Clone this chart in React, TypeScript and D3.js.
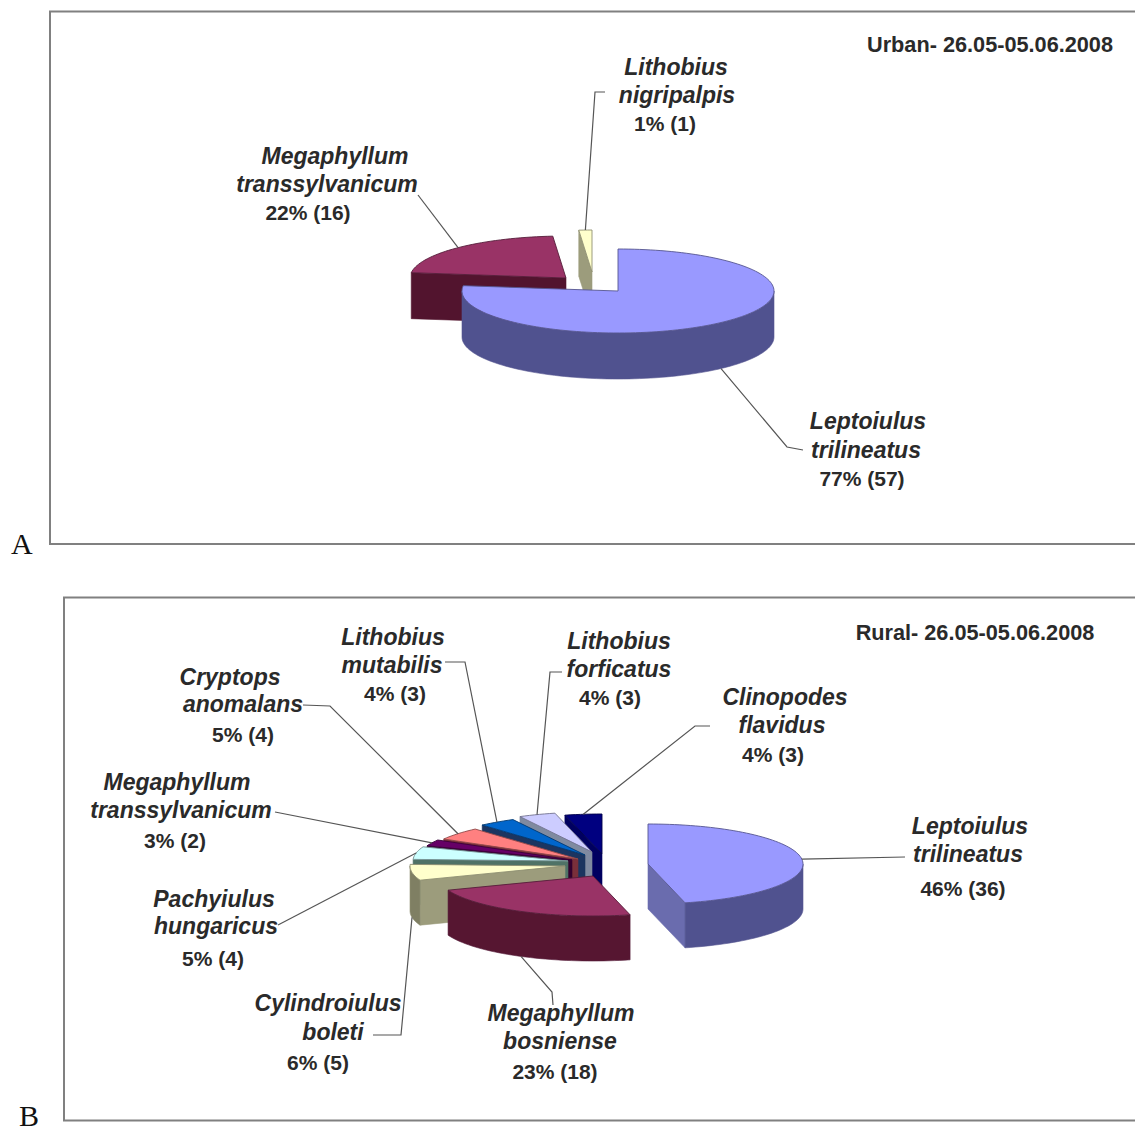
import React from "react";
import * as d3 from "d3";

// Species counts, urban site
const urbanNames = [["Leptoiulus", "trilineatus"], ["Megaphyllum", "transsylvanicum"], ["Lithobius", "nigripalpis"]];
const urbanCounts = [57, 16, 1];
const urbanPercents = [77, 22, 1];

// Species counts, rural site
const ruralNames = [
  ["Leptoiulus", "trilineatus"],
  ["Megaphyllum", "bosniense"],
  ["Cylindroiulus", "boleti"],
  ["Pachyiulus", "hungaricus"],
  ["Megaphyllum", "transsylvanicum"],
  ["Cryptops", "anomalans"],
  ["Lithobius", "mutabilis"],
  ["Lithobius", "forficatus"],
  ["Clinopodes", "flavidus"],
];
const ruralCounts = [36, 18, 5, 4, 2, 4, 3, 3, 3];
const ruralPercents = [46, 23, 6, 5, 3, 5, 4, 4, 4];

// Face colours per slice: top, outer rim, cut side
const urbanTop = ["#9999ff", "#993366", "#ffffcc"];
const urbanRim = ["#50528f", "#561631", "#7f7f63"];
const urbanCut = ["#6a6cae", "#52142e", "#9c9c7c"];
const ruralTop = ["#9999ff", "#993366", "#ffffcc", "#ccffff", "#660066", "#ff8080", "#0066cc", "#ccccff", "#000080"];
const ruralRim = ["#50528f", "#561631", "#7f7f63", "#5f8080", "#33002f", "#803f3f", "#1c3f66", "#7a7a9a", "#000060"];
const ruralCut = ["#6a6cae", "#52142e", "#9c9c7c", "#4f7266", "#33002f", "#7a2f3a", "#1c3560", "#7f8aa0", "#000060"];

type Label = { lines: [number, number][]; leader: [number, number][] };

// Text anchors (centre x, baseline y) and the leader bend points, from label side to slice
const urbanLabels: Label[] = [
  { lines: [[868, 429], [866, 458], [862, 486]], leader: [[803, 450], [787, 447]] },
  { lines: [[335, 164], [327, 192], [308, 220]], leader: [[418, 195]] },
  { lines: [[676, 75], [677, 103], [665, 131]], leader: [[605, 92], [595, 92]] },
];
const ruralLabels: Label[] = [
  { lines: [[970, 834], [968, 862], [963, 896]], leader: [[905, 857]] },
  { lines: [[561, 1021], [560, 1049], [555, 1079]], leader: [[553, 1005], [552, 992]] },
  { lines: [[328, 1011], [333, 1040], [318, 1070]], leader: [[373, 1035], [401, 1035]] },
  { lines: [[214, 907], [216, 934], [213, 966]], leader: [[278, 925]] },
  { lines: [[177, 790], [181, 818], [175, 848]], leader: [[275, 812]] },
  { lines: [[230, 685], [243, 712], [243, 742]], leader: [[303, 705], [330, 706]] },
  { lines: [[393, 645], [392, 673], [395, 701]], leader: [[445, 662], [465, 662]] },
  { lines: [[619, 649], [619, 677], [610, 705]], leader: [[562, 672], [550, 672]] },
  { lines: [[785, 705], [782, 733], [773, 762]], leader: [[710, 726], [695, 726]] },
];

// Pie geometry: squashed ellipse, wall depth and per-slice explosion
const urbanPie = { cx: 618, cy: 291, rx: 156, ry: 42, depth: 46, explode: [[0, 0], [-52, -13], [-26, -19]] };
const ruralPie = {
  cx: 600, cy: 860, rx: 155, ry: 40, depth: 45,
  explode: [[48, 4], [-7, 16], [-35, 6], [-32, 1], [-28, 0], [-22, -1], [-15, -5], [-8, -8], [2, -6]],
};

const FONT = "'Liberation Sans', Arial, sans-serif";
const TAU = Math.PI * 2;

function Pie3D({ counts, names, percents, labels, geom, top, rim, cut }: any) {
  const arcs = d3.pie<number>().sort(null).value((d) => d)(counts);
  const { rx, ry, depth } = geom;
  const line = d3.line();
  const project = (i: number, a: number, drop = 0): [number, number] => [
    geom.cx + geom.explode[i][0] + rx * Math.sin(a),
    geom.cy + geom.explode[i][1] - ry * Math.cos(a) + drop,
  ];
  const apex = (i: number, drop = 0): [number, number] => [
    geom.cx + geom.explode[i][0],
    geom.cy + geom.explode[i][1] + drop,
  ];
  const sweep = (i: number, a0: number, a1: number, drop = 0) => {
    const n = Math.max(2, Math.ceil(((a1 - a0) / TAU) * 180));
    return d3.range(n + 1).map((k) => project(i, a0 + ((a1 - a0) * k) / n, drop));
  };

  // Back slices are painted first, so walk the slices from last to first
  const order = d3.range(arcs.length).reverse();
  return (
    <g>
      {order.map((i) => {
        const { startAngle: a0, endAngle: a1 } = arcs[i];
        const stroke = d3.rgb(top[i]).darker(1.6).formatHex();
        const sw = 0.9;
        const faces: React.ReactNode[] = [];
        // Straight cut at the start edge shows when its normal points to the viewer
        if (Math.cos(a0 - Math.PI / 2) < 0) {
          faces.push(
            <path key="c0" fill={cut[i]} stroke={cut[i]} strokeWidth={0.6}
              d={line([apex(i), project(i, a0), project(i, a0, depth), apex(i, depth)])! + "Z"} />,
          );
        }
        if (Math.cos(a1 + Math.PI / 2) < 0) {
          faces.push(
            <path key="c1" fill={cut[i]} stroke={cut[i]} strokeWidth={0.6}
              d={line([apex(i), project(i, a1), project(i, a1, depth), apex(i, depth)])! + "Z"} />,
          );
        }
        // Outer rim wall is visible across the lower half of the ellipse
        const w0 = Math.max(a0, Math.PI / 2);
        const w1 = Math.min(a1, (Math.PI * 3) / 2);
        if (w1 > w0) {
          const pts = [...sweep(i, w0, w1), ...sweep(i, w0, w1, depth).reverse()];
          faces.push(<path key="w" fill={rim[i]} stroke={stroke} strokeWidth={0.6} d={line(pts)! + "Z"} />);
        }
        const topPts = [apex(i), ...sweep(i, a0, a1)];
        faces.push(<path key="t" fill={top[i]} stroke={stroke} strokeWidth={sw} d={line(topPts)! + "Z"} />);
        return <g key={i}>{faces}</g>;
      })}
      {arcs.map((arc, i) => {
        const mid = (arc.startAngle + arc.endAngle) / 2;
        const front = Math.cos(mid) < 0;
        const anchor = project(i, mid, front ? depth : 0);
        return (
          <path key={i} fill="none" stroke="#555" strokeWidth={1.2}
            d={line([...labels[i].leader, anchor])!} />
        );
      })}
      {arcs.map((_, i) => {
        const [a, b, c] = labels[i].lines;
        return (
          <g key={i} fontFamily={FONT} fontWeight="bold" fill="#2a2a2a" textAnchor="middle">
            <text x={a[0]} y={a[1]} fontStyle="italic" fontSize={23}>{names[i][0]}</text>
            <text x={b[0]} y={b[1]} fontStyle="italic" fontSize={23}>{names[i][1]}</text>
            <text x={c[0]} y={c[1]} fontSize={21}>{`${percents[i]}% (${counts[i]})`}</text>
          </g>
        );
      })}
    </g>
  );
}

export default function App() {
  return (
    <svg width={1135} height={1126} style={{ position: "absolute", left: 0, top: 0, background: "#fff" }}>
      {/* Panel frames run off the right edge */}
      <path d="M1135,11.5H50V544H1135" fill="none" stroke="#808080" strokeWidth={2} />
      <path d="M1135,597.5H64V1120.5H1135" fill="none" stroke="#808080" strokeWidth={2} />

      <text x={11} y={554} fontFamily="'Liberation Serif', serif" fontSize={30} fill="#111">A</text>
      <text x={19} y={1126} fontFamily="'Liberation Serif', serif" fontSize={30} fill="#111">B</text>

      <text x={990} y={52} textAnchor="middle" fontFamily={FONT} fontWeight="bold" fontSize={21.7} fill="#2a2a2a">
        Urban- 26.05-05.06.2008
      </text>
      <text x={975} y={640} textAnchor="middle" fontFamily={FONT} fontWeight="bold" fontSize={21.7} fill="#2a2a2a">
        Rural- 26.05-05.06.2008
      </text>

      <Pie3D counts={urbanCounts} names={urbanNames} percents={urbanPercents} labels={urbanLabels}
        geom={urbanPie} top={urbanTop} rim={urbanRim} cut={urbanCut} />
      <Pie3D counts={ruralCounts} names={ruralNames} percents={ruralPercents} labels={ruralLabels}
        geom={ruralPie} top={ruralTop} rim={ruralRim} cut={ruralCut} />
    </svg>
  );
}
